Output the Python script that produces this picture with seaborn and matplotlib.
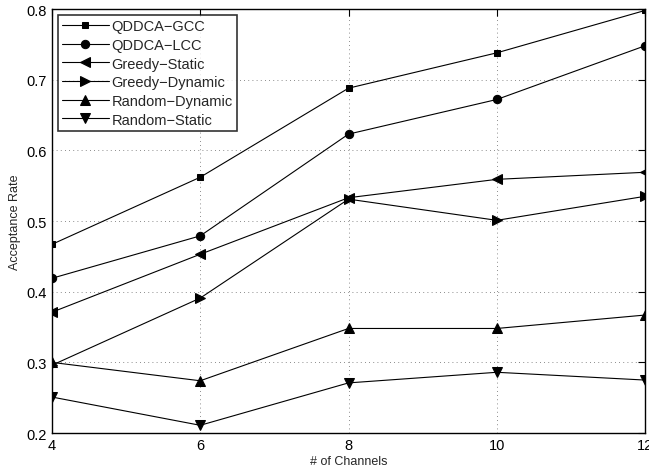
import pandas as pd
import numpy as np
import matplotlib.pyplot as plt
import seaborn as sns

channels = [4, 6, 8, 10, 12]
qddca_gcc = [0.467, 0.562, 0.688, 0.738, 0.798]
qddca_lcc = [0.419, 0.479, 0.623, 0.672, 0.748]
greedy_static = [0.371, 0.453, 0.533, 0.559, 0.569]
greedy_dynamic = [0.296, 0.391, 0.531, 0.501, 0.535]
random_dynamic = [0.300, 0.274, 0.348, 0.348, 0.367]
random_static = [0.251, 0.211, 0.271, 0.286, 0.275]

series_names = ["QDDCA\u2212GCC", "QDDCA\u2212LCC", "Greedy\u2212Static",
                "Greedy\u2212Dynamic", "Random\u2212Dynamic", "Random\u2212Static"]
series_values = [qddca_gcc, qddca_lcc, greedy_static,
                 greedy_dynamic, random_dynamic, random_static]
marker_list = ["s", "o", "<", ">", "^", "v"]
# matlab-ish marker sizes (squares look smaller there)
marker_sizes = {"s": 5, "o": 6, "<": 6.5, ">": 6.5, "^": 6.5, "v": 6.5}

rows = []
for name, vals in zip(series_names, series_values):
    for c, v in zip(channels, vals):
        rows.append({"channels": c, "rate": v, "series": name})
df = pd.DataFrame(rows)

sns.set_style("white")
plt.rcParams["font.family"] = ["Liberation Sans", "DejaVu Sans"]

fig = plt.figure(figsize=(6.49, 4.77), dpi=100)
ax = fig.add_axes([0.080, 0.090, 0.914, 0.889])

sns.lineplot(
    data=df, x="channels", y="rate", hue="series", style="series",
    hue_order=series_names, style_order=series_names,
    palette=["black"] * 6, markers=marker_list, dashes=False,
    markersize=6.5, linewidth=0.8, markeredgecolor="black", ax=ax,
)

ax.set_xlim(4, 12)
ax.set_ylim(0.2, 0.8)
ax.set_xticks(channels)
ax.set_yticks([0.2, 0.3, 0.4, 0.5, 0.6, 0.7, 0.8])
ax.set_yticklabels(["0.2", "0.3", "0.4", "0.5", "0.6", "0.7", "0.8"])
ax.grid(True, linestyle=(0, (1, 4)), color="#666666", linewidth=0.6)
ax.tick_params(direction="in", length=5, width=0.8, labelsize=10.5,
               top=True, right=True, colors="black")
for spine in ax.spines.values():
    spine.set_visible(True)
    spine.set_linewidth(1.0)
    spine.set_color("black")

ax.set_xlabel("# of Channels", fontsize=9, labelpad=2)
ax.set_ylabel("Acceptance Rate", fontsize=9, labelpad=4)

leg = ax.legend(loc="upper left", fontsize=10.5, handlelength=3.2,
                frameon=True, fancybox=False, edgecolor="black",
                borderpad=0.3, labelspacing=0.32, handletextpad=0.2,
                borderaxespad=0.4)
leg.get_frame().set_linewidth(1.2)

for ln in list(ax.lines) + list(leg.get_lines()):
    m = ln.get_marker()
    if m in marker_sizes:
        ln.set_markersize(marker_sizes[m])

fig.savefig("out.png", dpi=100)
